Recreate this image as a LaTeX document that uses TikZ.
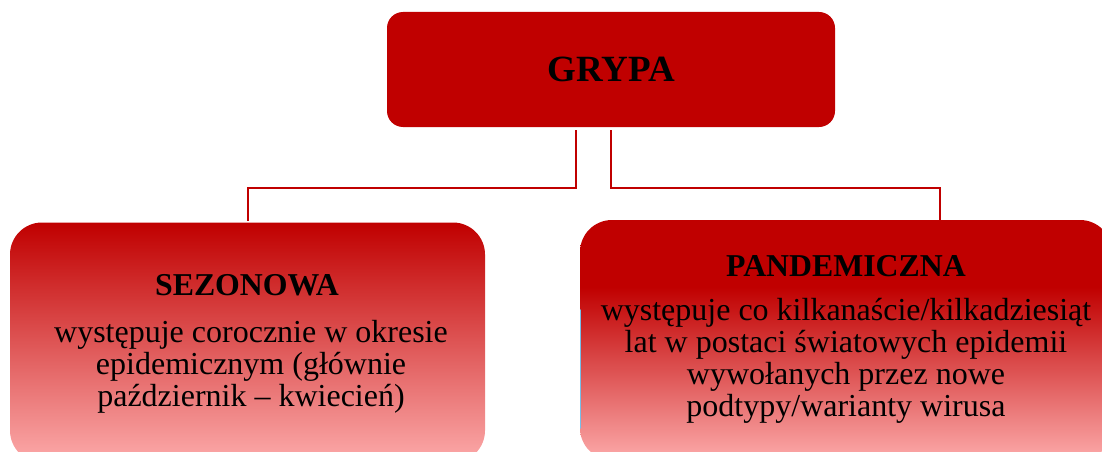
\documentclass[tikz,border=0pt]{standalone}
\usepackage{fontspec}
\setmainfont{Liberation Serif}
\definecolor{darkred}{RGB}{192,0,0}
\definecolor{pinkbot}{RGB}{252,170,170}
\definecolor{edgeblue}{RGB}{120,190,232}
\pgfdeclareverticalshading{lshade}{100bp}{color(0bp)=(pinkbot); color(25bp)=(pinkbot); color(75bp)=(darkred); color(100bp)=(darkred)}
\pgfdeclareverticalshading{rshade}{100bp}{color(0bp)=(pinkbot); color(25bp)=(pinkbot); color(61bp)=(darkred); color(100bp)=(darkred)}
\tikzset{
  topbox/.style={rectangle, rounded corners=16pt, fill=darkred, minimum width=448pt, minimum height=115pt, inner sep=0pt},
  subbox/.style={rectangle, rounded corners=32pt, minimum height=240pt, inner sep=0pt},
  conn/.style={draw=darkred, line width=2pt},
  titletext/.style={font=\bfseries\fontsize{31.8}{32}\selectfont, inner sep=0pt},
  bodytext/.style={font=\fontsize{32}{32}\selectfont, align=center, inner sep=0pt}
}
\begin{document}
\begin{tikzpicture}[x=1pt,y=-1pt]
\useasboundingbox (0,0) rectangle (1102,452);
\clip (0,0) rectangle (1102,452);
% boxes
\node[topbox] (grypa) at (611,69.5) {};
\node[subbox, shading=lshade, minimum width=475pt] (sez) at (247.5,342.5) {};
\node[subbox, shading=rshade, minimum width=532pt] (pan) at (846,340) {};
\draw[edgeblue, line width=1.5pt, line cap=round] ([xshift=0.8pt,yshift=30pt]pan.west) -- ([xshift=0.8pt,yshift=-88pt]pan.west);
% texts
\node[font=\bfseries\fontsize{37}{38}\selectfont, inner sep=0pt] (tg) at (grypa.center) {GRYPA};
\node[titletext] (ts) at (247,285) {SEZONOWA};
\node[bodytext] (bs) at (251,367) {występuje corocznie w okresie\\epidemicznym (głównie\\październik – kwiecień)};
\node[titletext] (tp) at (846,266) {PANDEMICZNA};
\node[bodytext] (bp) at (846,361) {występuje co kilkanaście/kilkadziesiąt\\lat w postaci światowych epidemii\\wywołanych przez nowe\\podtypy/warianty wirusa};
% connectors
\coordinate (gl) at ([xshift=-35pt,yshift=-3pt]grypa.south);
\coordinate (gr) at ([yshift=-3pt]grypa.south);
\coordinate (sl) at ([yshift=1pt]sez.north);
\coordinate (pr) at (940,220);
\draw[conn] (gl) -- (gl |- 0,188) -- (sl |- 0,188) -- (sl);
\draw[conn] (gr) -- (gr |- 0,188) -- (pr |- 0,188) -- (pr);
\end{tikzpicture}
\end{document}
